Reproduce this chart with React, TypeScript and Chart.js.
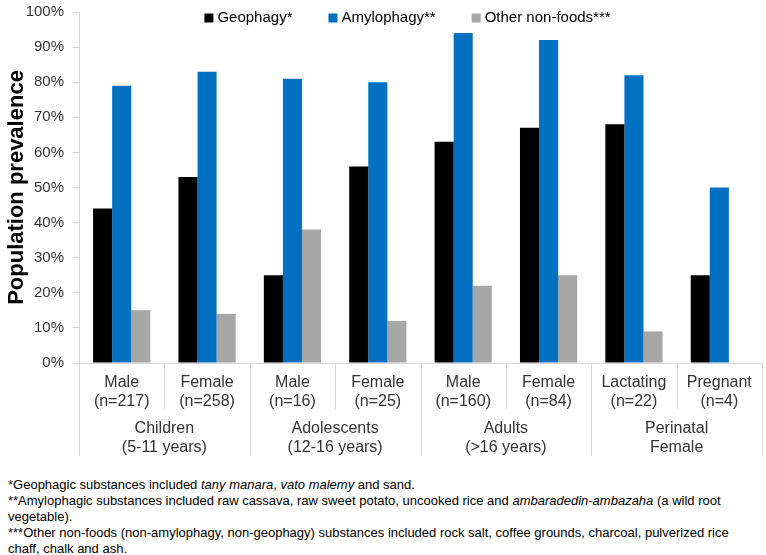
import React, { useEffect, useRef } from "react";
import { Chart, registerables } from "chart.js";

Chart.register(...registerables);

const subLabels: string[][] = [
  ["Male", "(n=217)"],
  ["Female", "(n=258)"],
  ["Male", "(n=16)"],
  ["Female", "(n=25)"],
  ["Male", "(n=160)"],
  ["Female", "(n=84)"],
  ["Lactating", "(n=22)"],
  ["Pregnant", "(n=4)"],
];
const groupLabels: string[][] = [
  ["Children", "(5-11 years)"],
  ["Adolescents", "(12-16 years)"],
  ["Adults", "(>16 years)"],
  ["Perinatal", "Female"],
];
const groupSpans: number[] = [2, 2, 2, 2];

const geophagy: number[] = [44, 53, 25, 56, 63, 67, 68, 25];
const amylophagy: number[] = [79, 83, 81, 80, 94, 92, 82, 50];
const otherNonFoods: number[] = [15, 14, 38, 12, 22, 25, 9, 0];

const seriesNames: string[] = ["Geophagy*", "Amylophagy**", "Other non-foods***"];
const seriesColors: string[] = ["#000000", "#0070C0", "#A6A6A6"];

const FONT = "'Liberation Sans', Arial, sans-serif";
const TEXT = "#333333";
const LINE = "#D9D9D9";

const multiLevelPlugin = {
  id: "multiLevel",
  afterDraw(chart: any) {
    const ctx = chart.ctx;
    const xs = chart.scales.x;
    const area = chart.chartArea;
    const n = subLabels.length;
    const bound = (i: number) =>
      i === 0 ? xs.left : i === n ? xs.right : (xs.getPixelForValue(i - 1) + xs.getPixelForValue(i)) / 2;
    const groupBounds = new Set<number>();
    let acc = 0;
    groupBounds.add(0);
    groupSpans.forEach((s) => {
      acc += s;
      groupBounds.add(acc);
    });
    ctx.save();
    ctx.strokeStyle = LINE;
    ctx.lineWidth = 1;
    for (let i = 0; i <= n; i++) {
      const x = Math.round(bound(i)) + 0.5;
      ctx.beginPath();
      ctx.moveTo(x, area.bottom);
      ctx.lineTo(x, area.bottom + (groupBounds.has(i) ? 93 : 46));
      ctx.stroke();
    }
    ctx.fillStyle = TEXT;
    ctx.font = `16px ${FONT}`;
    ctx.textAlign = "center";
    ctx.textBaseline = "middle";
    subLabels.forEach((lines, i) => {
      const cx = xs.getPixelForValue(i);
      lines.forEach((t, j) => ctx.fillText(t, cx, area.bottom + 20 + j * 19));
    });
    let start = 0;
    groupLabels.forEach((lines, g) => {
      const cx = (bound(start) + bound(start + groupSpans[g])) / 2;
      lines.forEach((t, j) => ctx.fillText(t, cx, area.bottom + 66 + j * 19));
      start += groupSpans[g];
    });
    // legend
    ctx.font = `15px ${FONT}`;
    ctx.textAlign = "left";
    const box = 9;
    const gapText = 4;
    const gapItem = 36;
    const widths = chart.data.datasets.map((d: any) => box + gapText + ctx.measureText(d.label).width);
    const total = widths.reduce((a: number, b: number) => a + b, 0) + gapItem * (widths.length - 1);
    let x = (area.left + area.right) / 2 - total / 2 - 13;
    const y = area.top + 6;
    chart.data.datasets.forEach((d: any, i: number) => {
      ctx.fillStyle = d.backgroundColor;
      ctx.fillRect(x, y - box / 2, box, box);
      ctx.fillStyle = "#000";
      ctx.fillText(d.label, x + box + gapText, y);
      x += widths[i] + gapItem;
    });
    ctx.restore();
  },
};

export default function App() {
  const ref = useRef<HTMLCanvasElement>(null);
  useEffect(() => {
    const chart = new Chart(ref.current!, {
      type: "bar",
      data: {
        labels: subLabels.map((l) => l.join(" ")),
        datasets: [geophagy, amylophagy, otherNonFoods].map((data, i) => ({
          label: seriesNames[i],
          data,
          backgroundColor: seriesColors[i],
          borderWidth: 0,
          categoryPercentage: 0.67,
          barPercentage: 1.0,
        })),
      },
      options: {
        responsive: false,
        animation: false,
        layout: { padding: { left: 0, right: 4, top: 12, bottom: 0 } },
        plugins: { legend: { display: false }, tooltip: { enabled: false } },
        scales: {
          x: {
            ticks: { display: false },
            grid: { display: false },
            border: { display: true, color: LINE },
            afterFit: (s: any) => {
              s.height = 107;
              s.paddingLeft = 0;
              s.paddingRight = 0;
            },
          },
          y: {
            min: 0,
            max: 100,
            ticks: {
              stepSize: 10,
              callback: (v: any) => v + "%",
              font: { family: FONT, size: 15 },
              color: TEXT,
              padding: 9,
            },
            grid: { drawOnChartArea: false, drawTicks: true, tickLength: 6, color: LINE },
            border: { display: true, color: LINE },
            title: {
              display: true,
              text: "Population prevalence",
              font: { family: FONT, size: 22, weight: "bold" },
              color: "#000",
              padding: { top: 4, bottom: 0 },
            },
            afterFit: (s: any) => {
              s.width = 79;
              s.paddingTop = 0;
              s.paddingBottom = 0;
            },
          },
        },
      },
      plugins: [multiLevelPlugin],
    });
    return () => chart.destroy();
  }, []);

  const noteStyle: React.CSSProperties = {
    fontFamily: FONT,
    fontSize: 13,
    lineHeight: "16px",
    color: "#000",
    whiteSpace: "nowrap",
    margin: 0,
  };

  return (
    <div style={{ position: "absolute", left: 0, top: 0, width: 766, height: 555, background: "#fff", overflow: "hidden" }}>
      <canvas ref={ref} width={766} height={470} style={{ display: "block" }} />
      <div style={{ position: "absolute", left: 8, top: 477, ...noteStyle }}>
        <div>*Geophagic substances included <i>tany manara</i>, <i>vato malemy</i> and sand.</div>
        <div>
          **Amylophagic substances included raw cassava, raw sweet potato, uncooked rice and <i>ambaradedin-ambazaha</i> (a wild root
        </div>
        <div>vegetable).</div>
        <div>***Other non-foods (non-amylophagy, non-geophagy) substances included rock salt, coffee grounds, charcoal, pulverized rice</div>
        <div>chaff, chalk and ash.</div>
      </div>
    </div>
  );
}
